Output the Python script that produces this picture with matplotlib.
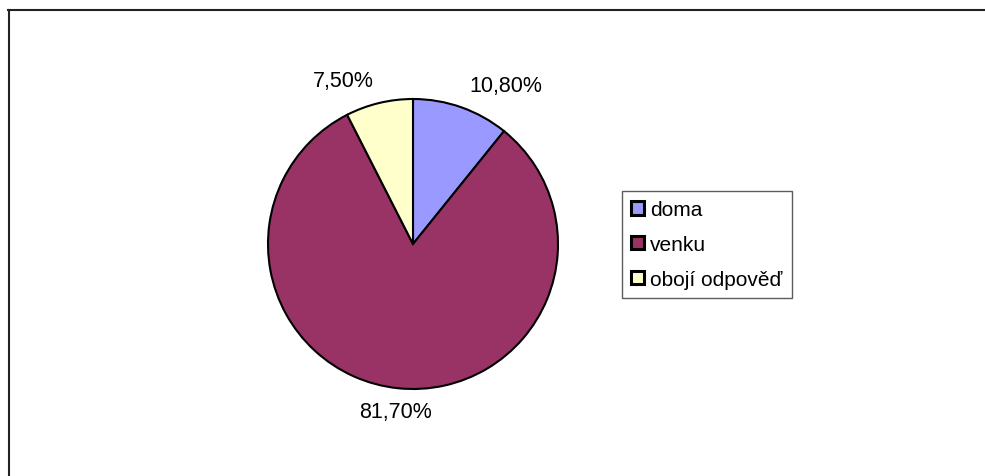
import matplotlib
matplotlib.use("Agg")
import matplotlib.pyplot as plt
from matplotlib.patches import Rectangle
from matplotlib.lines import Line2D

# data
categories = ["doma", "venku", "obojí odpověď"]
shares = [10.8, 81.7, 7.5]
pct_labels = ["10,80%", "81,70%", "7,50%"]
colors = ["#9999FF", "#993366", "#FFFFCC"]

plt.rcParams['font.family'] = ['Liberation Sans', 'DejaVu Sans']

W, H = 985, 477
fig = plt.figure(figsize=(W / 100, H / 100), dpi=100)

# outer chart-area border (only top and left edges are visible in the crop)
fig.add_artist(Line2D([8 / W, 1.0], [1 - 11 / H, 1 - 11 / H], color="#222222", lw=1.5))
fig.add_artist(Line2D([9 / W, 9 / W], [0.0, 1 - 11 / H], color="#222222", lw=1.5))

# square axes so the pie lands where it is in the reference
cx, cy, r = 413, 245, 145
ax = fig.add_axes([(cx - r) / W, (H - cy - r) / H, 2 * r / W, 2 * r / H])

wedges, texts = ax.pie(shares, labels=pct_labels, colors=colors, startangle=90,
                       counterclock=False, labeldistance=1.16,
                       wedgeprops=dict(edgecolor="black", linewidth=1.5),
                       textprops=dict(fontsize=15.5, color="black"))
# bottom label sits nearly centred under the pie in the original
texts[1].set_horizontalalignment("center")
ax.set_xlim(-1, 1)
ax.set_ylim(-1, 1)
ax.set_axis_off()

handles = [Rectangle((0, 0), 1, 1, facecolor=c, edgecolor="black", linewidth=2.2)
           for c in colors]
leg = fig.legend(handles, categories, loc="upper left",
                 bbox_to_anchor=(622 / W, 1 - 192 / H),
                 fontsize=15, frameon=True, fancybox=False, shadow=False,
                 handlelength=0.6, handleheight=0.6, handletextpad=0.3,
                 labelspacing=0.75, borderpad=0.45, borderaxespad=0)
leg.get_frame().set_edgecolor("#333333")
leg.get_frame().set_linewidth(1.0)

fig.savefig("out.png", dpi=100)
